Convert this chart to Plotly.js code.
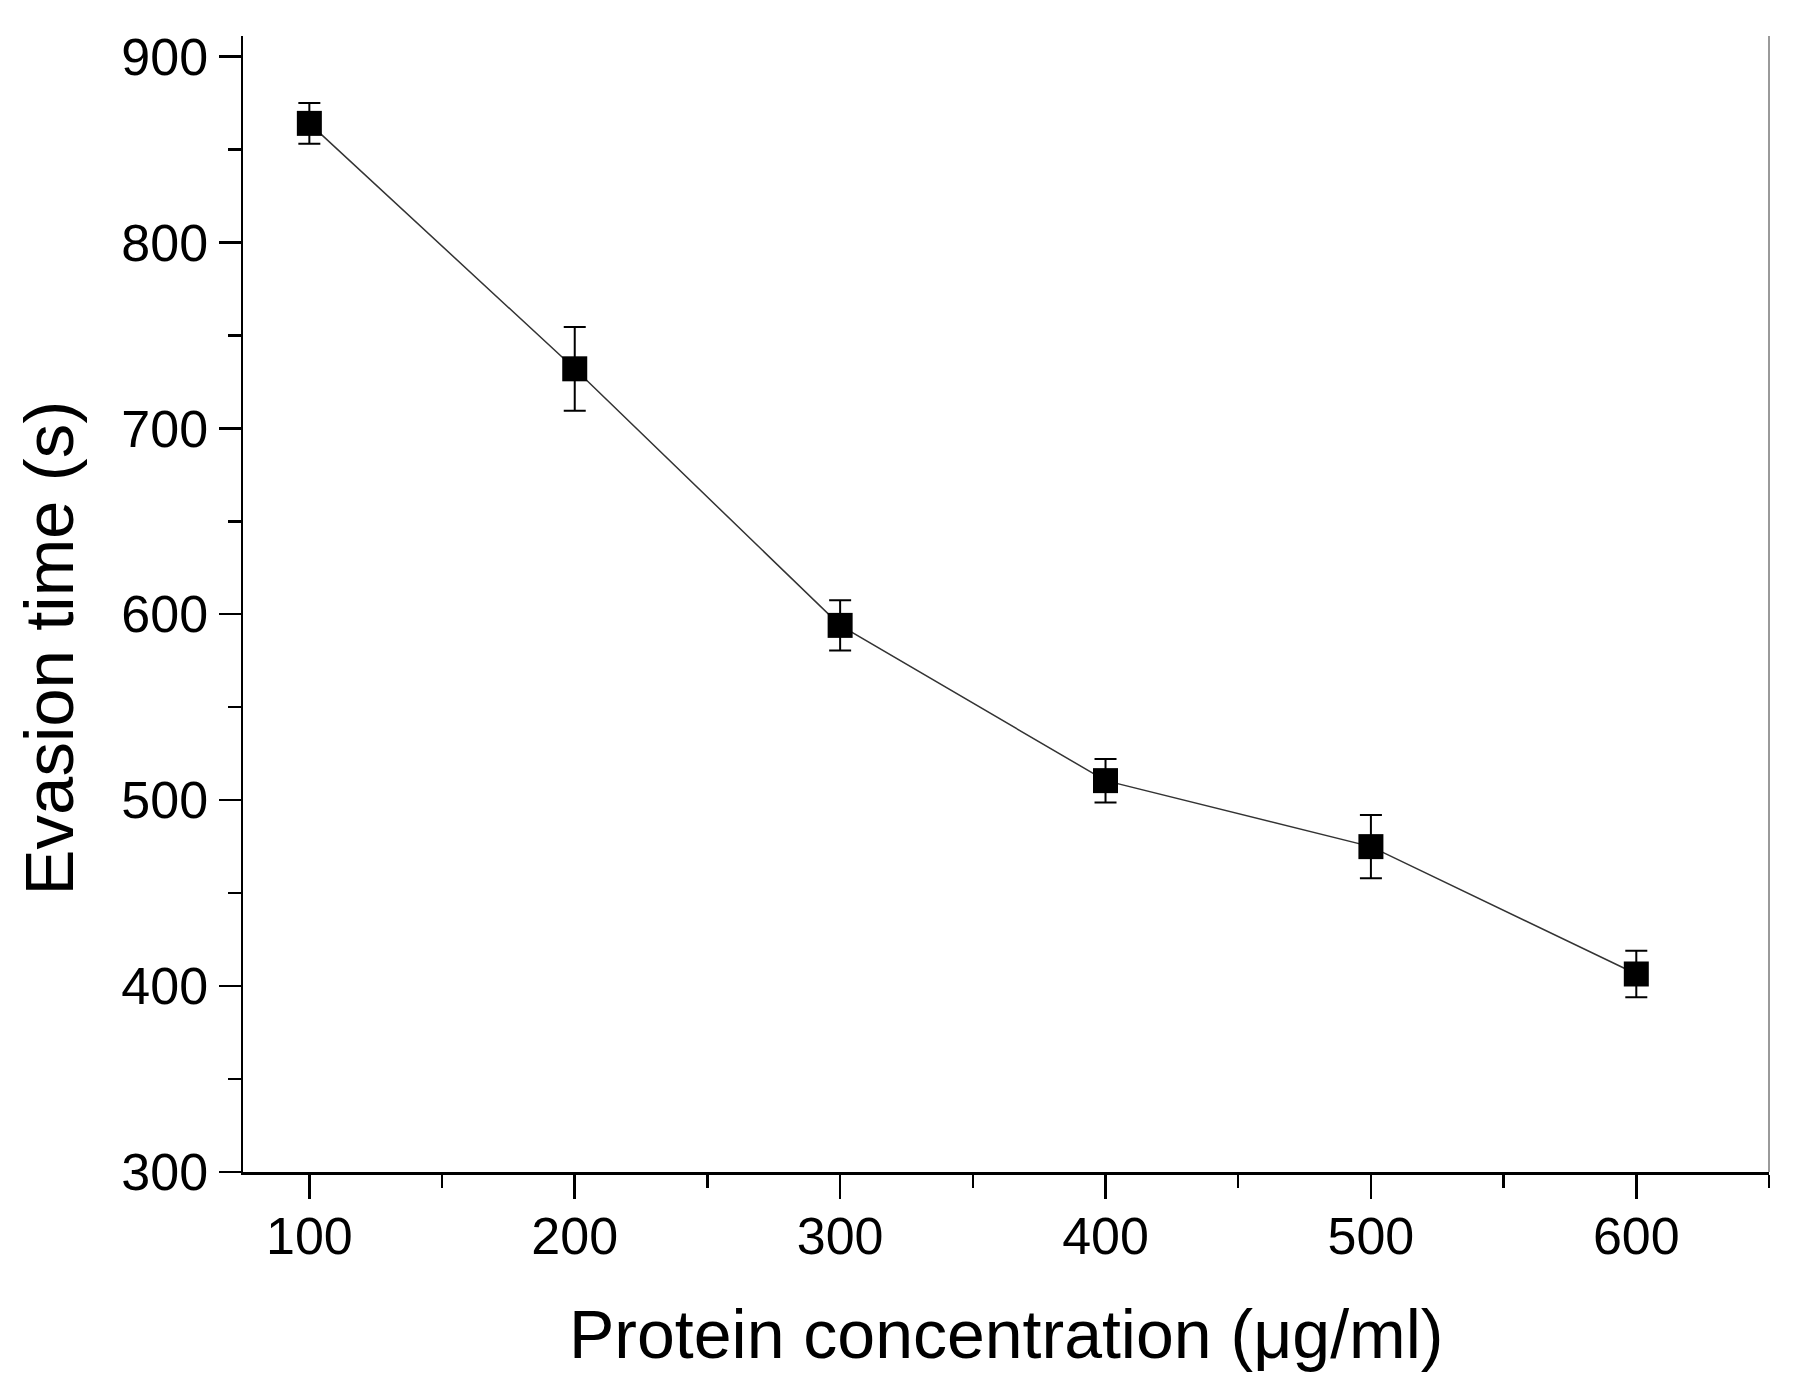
<!DOCTYPE html>
<html>
<head>
<meta charset="utf-8">
<script src="https://cdn.plot.ly/plotly-3.0.1.min.js"></script>
<style>html,body{margin:0;padding:0;background:#fff;}#chart{width:1794px;height:1389px;}</style>
</head>
<body>
<div id="chart"></div>
<script>
// Data
const concentrations = [100, 200, 300, 400, 500, 600];
const evasionTime = [864, 732, 594, 510.5, 475, 406.5];
const evasionError = [11, 22.5, 13.5, 11.7, 17, 12.5];
const xTickValues = [100, 200, 300, 400, 500, 600];
const yTickValues = [300, 400, 500, 600, 700, 800, 900];
const xTitleText = 'Protein concentration (\u03bcg/ml)';
const yTitleText = 'Evasion time (s)';

const FONT = 'Liberation Sans, Arial, Helvetica, sans-serif';

const trace = {
  x: concentrations,
  y: evasionTime,
  type: 'scatter',
  mode: 'lines+markers',
  line: {color: '#333333', width: 1.5},
  marker: {symbol: 'square', size: 25, color: '#000000'},
  error_y: {type: 'data', array: evasionError, visible: true, color: '#000000', thickness: 2, width: 11},
  showlegend: false,
  hoverinfo: 'x+y'
};

const layout = {
  width: 1794,
  height: 1389,
  margin: {l: 243, r: 25, t: 36, b: 217, pad: 0},
  paper_bgcolor: '#ffffff',
  plot_bgcolor: '#ffffff',
  font: {family: FONT, color: '#000000'},
  showlegend: false,
  xaxis: {
    range: [75, 650],
    tickmode: 'array',
    tickvals: xTickValues,
    ticktext: xTickValues.map(String),
    ticks: 'outside',
    ticklen: 24,
    tickwidth: 2.5,
    tickcolor: '#000000',
    ticklabelstandoff: -7,
    showline: true,
    linecolor: '#000000',
    linewidth: 2.5,
    showgrid: false,
    zeroline: false,
    mirror: false,
    tickfont: {family: FONT, size: 52, color: '#000000'},
    minor: {dtick: 50, tick0: 50, ticks: 'outside', ticklen: 13, tickwidth: 2.5, tickcolor: '#000000', showgrid: false},
    fixedrange: true
  },
  yaxis: {
    range: [300, 911],
    tickmode: 'array',
    tickvals: yTickValues,
    ticktext: yTickValues.map(String),
    ticks: 'outside',
    ticklen: 22,
    tickwidth: 2.5,
    tickcolor: '#000000',
    showline: true,
    linecolor: '#000000',
    linewidth: 2.5,
    showgrid: false,
    zeroline: false,
    mirror: false,
    tickfont: {family: FONT, size: 52, color: '#000000'},
    minor: {dtick: 50, tick0: 50, ticks: 'outside', ticklen: 13, tickwidth: 2.5, tickcolor: '#000000', showgrid: false},
    fixedrange: true
  },
  shapes: [
    {type: 'line', xref: 'paper', yref: 'paper', x0: 1, x1: 1, y0: 0, y1: 1,
     line: {color: '#9a9a9a', width: 2}}
  ],
  annotations: [
    {text: xTitleText, xref: 'paper', yref: 'paper', x: 0.5, y: -0.143,
     xanchor: 'center', yanchor: 'middle', showarrow: false,
     font: {family: FONT, size: 68, color: '#000000'}},
    {text: yTitleText, xref: 'paper', yref: 'paper', x: -0.127, y: 0.461,
     xanchor: 'center', yanchor: 'middle', showarrow: false, textangle: -90,
     font: {family: FONT, size: 69, color: '#000000'}}
  ]
};

Plotly.newPlot('chart', [trace], layout, {displayModeBar: false, staticPlot: true});
</script>
</body>
</html>
